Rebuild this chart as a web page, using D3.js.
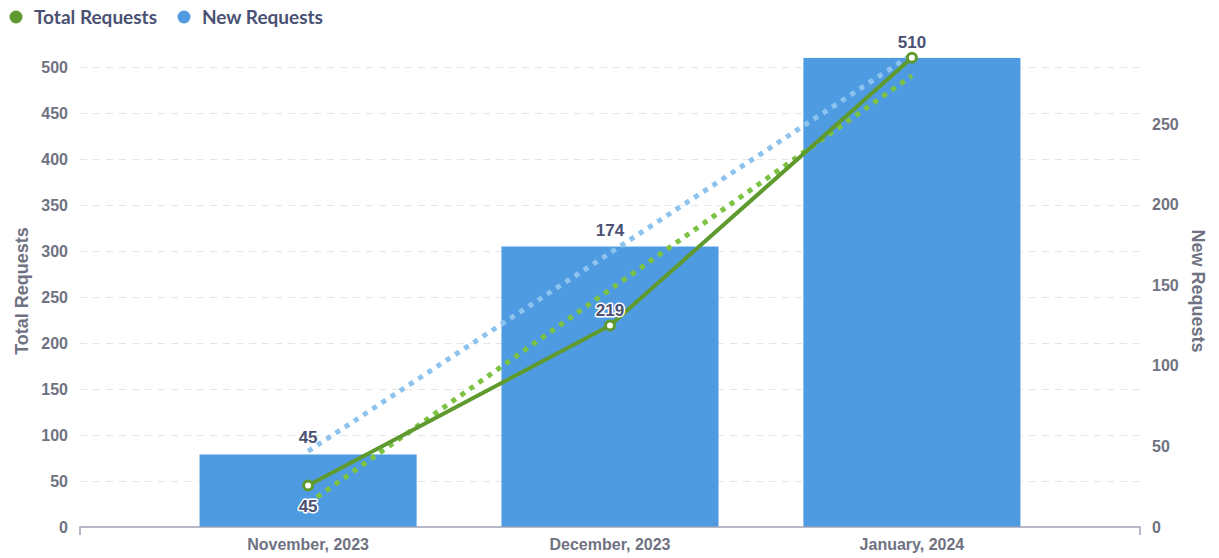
<!DOCTYPE html>
<html>
<head>
<meta charset="utf-8">
<script src="https://cdn.jsdelivr.net/npm/d3@7"></script>
<style>
  html, body { margin: 0; padding: 0; background: #fff; }
  svg { display: block; }
</style>
</head>
<body>
<svg id="chart" width="1219" height="558"></svg>
<script>
// ---- data ----
const categories = ["November, 2023", "December, 2023", "January, 2024"];
const totalRequests = [45, 219, 510];
const newRequests = [45, 174, 291];
const leftTicks = [0, 50, 100, 150, 200, 250, 300, 350, 400, 450, 500];
const rightTicks = [0, 50, 100, 150, 200, 250];
const seriesNames = ["Total Requests", "New Requests"];

// ---- style ----
const C = {
  bar: "#4f9be2",
  line: "#5e9a2d",
  trendGreen: "#7cc243",
  trendBlue: "#8cc3ef",
  grid: "#e6e6e6",
  axis: "#9ea2b5",
  tick: "#6f7282",
  label: "#4a5172"
};

const svg = d3.select("#chart");
const plot = { left: 80, right: 1140, bottom: 527 };

const x = d3.scaleBand().domain(categories).range([plot.left, plot.right])
  .paddingInner(0.281).paddingOuter(0.396).align(0.5);
const yL = d3.scaleLinear().domain([0, 500]).range([plot.bottom, 67]);
const yR = d3.scaleLinear().domain([0, 250]).range([plot.bottom, 124]);
const cx = d => x(d) + x.bandwidth() / 2;

// least squares trend over category index
function trend(vals) {
  const xs = vals.map((_, i) => i);
  const mx = d3.mean(xs), my = d3.mean(vals);
  const b = d3.sum(xs, (xi, i) => (xi - mx) * (vals[i] - my)) / d3.sum(xs, xi => (xi - mx) ** 2);
  const a = my - b * mx;
  return xs.map(xi => a + b * xi);
}

// gridlines
const gridAxis = d3.axisLeft(yL).tickValues(leftTicks.filter(t => t > 0))
  .tickSize(-(plot.right - plot.left)).tickFormat("");
const gg = svg.append("g").attr("transform", `translate(${plot.left},0)`).call(gridAxis);
gg.select(".domain").remove();
gg.selectAll("line").attr("stroke", C.grid).attr("stroke-width", 1.2).attr("stroke-dasharray", "7,6");

// bars (right axis)
svg.append("g").selectAll("rect").data(categories).join("rect")
  .attr("x", d => x(d)).attr("width", x.bandwidth())
  .attr("y", (d, i) => yR(newRequests[i]))
  .attr("height", (d, i) => plot.bottom - yR(newRequests[i]))
  .attr("fill", C.bar);

// x axis
const xAxis = d3.axisBottom(x).tickSize(0).tickSizeOuter(0).tickPadding(12);
const xg = svg.append("g").attr("transform", `translate(0,${plot.bottom})`).call(xAxis);
xg.select(".domain").remove();
xg.append("path").attr("d", `M${plot.left},${8}V0H${plot.right}V8`)
  .attr("fill", "none").attr("stroke", C.axis).attr("stroke-width", 1.5);
xg.selectAll("text").attr("font-family", "'Liberation Sans', Arial, sans-serif")
  .attr("font-size", 16).attr("font-weight", "bold").attr("fill", C.tick);

// left axis
const lg = svg.append("g").attr("transform", `translate(${plot.left},0)`)
  .call(d3.axisLeft(yL).tickValues(leftTicks).tickSize(0).tickPadding(12));
lg.select(".domain").remove();
lg.selectAll("text").attr("font-family", "'Liberation Sans', Arial, sans-serif")
  .attr("font-size", 16).attr("font-weight", "bold").attr("fill", C.tick);

// right axis
const rg = svg.append("g").attr("transform", `translate(${plot.right},0)`)
  .call(d3.axisRight(yR).tickValues(rightTicks).tickSize(0).tickPadding(12));
rg.select(".domain").remove();
rg.selectAll("text").attr("font-family", "'Liberation Sans', Arial, sans-serif")
  .attr("font-size", 16).attr("font-weight", "bold").attr("fill", C.tick);

// axis titles
svg.append("text").attr("transform", `translate(28,${(plot.bottom + 67) / 2 - 6}) rotate(-90)`)
  .attr("text-anchor", "middle").attr("font-family", "'Liberation Sans', Arial, sans-serif")
  .attr("font-size", 18).attr("font-weight", "bold").attr("fill", C.tick).text(seriesNames[0]);
svg.append("text").attr("transform", `translate(1192,${(plot.bottom + 67) / 2 - 6}) rotate(90)`)
  .attr("text-anchor", "middle").attr("font-family", "'Liberation Sans', Arial, sans-serif")
  .attr("font-size", 18).attr("font-weight", "bold").attr("fill", C.tick).text(seriesNames[1]);

// trend lines
const tBlue = trend(newRequests), tGreen = trend(totalRequests);
const lineR = d3.line().x((d, i) => cx(categories[i])).y(d => yR(d));
const lineL = d3.line().x((d, i) => cx(categories[i])).y(d => yL(d));
svg.append("path").datum(tBlue).attr("d", lineR).attr("fill", "none")
  .attr("stroke", C.trendBlue).attr("stroke-width", 5).attr("stroke-dasharray", "5,6");
svg.append("path").datum(tGreen).attr("d", lineL).attr("fill", "none")
  .attr("stroke", C.trendGreen).attr("stroke-width", 5).attr("stroke-dasharray", "5,6");

// total line
svg.append("path").datum(totalRequests).attr("d", lineL).attr("fill", "none")
  .attr("stroke", C.line).attr("stroke-width", 4).attr("stroke-linejoin", "round");
svg.append("g").selectAll("circle").data(totalRequests).join("circle")
  .attr("cx", (d, i) => cx(categories[i])).attr("cy", d => yL(d)).attr("r", 4.5)
  .attr("fill", "#fff").attr("stroke", C.line).attr("stroke-width", 3);

// line labels
const lblFont = "'Liberation Sans', Arial, sans-serif";
const lineLabelPos = ["below", "above", "above"];
svg.append("g").selectAll("text").data(totalRequests).join("text")
  .attr("x", (d, i) => cx(categories[i]))
  .attr("y", (d, i) => lineLabelPos[i] === "below" ? yL(d) + 26 : yL(d) - 10)
  .attr("text-anchor", "middle").attr("font-family", lblFont).attr("font-size", 17)
  .attr("font-weight", "bold").attr("fill", C.label)
  .attr("stroke", "#fff").attr("stroke-width", 3).attr("paint-order", "stroke")
  .attr("stroke-linejoin", "round").text(d => d);

// bar labels (hidden when they would collide with a line label)
svg.append("g").selectAll("text").data(newRequests).join("text")
  .attr("x", (d, i) => cx(categories[i])).attr("y", d => yR(d) - 11)
  .attr("text-anchor", "middle").attr("font-family", lblFont).attr("font-size", 17)
  .attr("font-weight", "bold").attr("fill", C.label)
  .attr("display", (d, i) => (lineLabelPos[i] === "above" && Math.abs(yR(d) - yL(totalRequests[i])) < 30) ? "none" : null)
  .text(d => d);

// legend
const legend = svg.append("g").attr("transform", "translate(16,17)");
const legendColors = [C.line, "#4f9be2"];
const lx = [0, 168];
seriesNames.forEach((name, i) => {
  legend.append("circle").attr("cx", lx[i]).attr("cy", 0).attr("r", 6.5).attr("fill", legendColors[i]);
  legend.append("text").attr("x", lx[i] + 18).attr("y", 7).attr("font-family", "Lato, sans-serif")
    .attr("font-size", 19).attr("font-weight", "bold").attr("fill", C.label).text(name);
});
</script>
</body>
</html>
